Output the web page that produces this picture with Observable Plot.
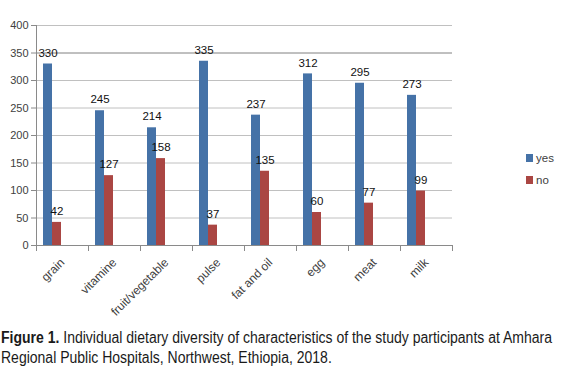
<!DOCTYPE html>
<html><head><meta charset="utf-8">
<script src="https://cdn.jsdelivr.net/npm/d3@7"></script>
<script src="https://cdn.jsdelivr.net/npm/@observablehq/plot@0.6"></script>
<style>
body{margin:0;background:#fff;}
#wrap{position:relative;width:562px;height:375px;overflow:hidden;}
#legend{position:absolute;left:526px;top:147px;font:11.5px "Liberation Sans",Arial,sans-serif;color:#404040;line-height:22px;}
.sw{display:inline-block;width:7px;height:8px;margin-right:3px;}
#caption{position:absolute;left:1px;top:328px;font-family:"Liberation Sans",Arial,sans-serif;font-size:16px;line-height:20px;color:#1a1a1a;white-space:nowrap;}
#caption span{display:inline-block;transform-origin:0 50%;}
</style></head>
<body>
<div id="wrap">
<div id="chart"></div>
<div id="legend"></div>
<div id="caption"><span id="c1"><b>Figure 1.</b> Individual dietary diversity of characteristics of the study participants at Amhara</span><br><span id="c2">Regional Public Hospitals, Northwest, Ethiopia, 2018.</span></div>
</div>
<script>
const categories = ["grain","vitamine","fruit/vegetable","pulse","fat and oil","egg","meat","milk"];
const yesValues = [330,245,214,335,237,312,295,273];
const noValues = [42,127,158,37,135,60,77,99];
const series = ["yes","no"];
const seriesColors = ["#4572A7","#AA4643"];
const yTicks = [0,50,100,150,200,250,300,350,400];

const rows = categories.flatMap((c,i)=>[
  {cat:c, series:"yes", value:yesValues[i]},
  {cat:c, series:"no", value:noValues[i]}
]);

const chart = Plot.plot({
  width:562, height:320,
  marginLeft:34, marginRight:56, marginTop:25, marginBottom:75,
  style:{fontFamily:"'Liberation Sans', Arial, sans-serif", fontSize:"11px", color:"#404040", background:"#fff"},
  fx:{domain:[...categories, ""], paddingInner:0, paddingOuter:0, label:null, axis:null},
  x:{domain:series, paddingInner:0, paddingOuter:1.74, align:0.2, axis:null},
  y:{domain:[0,400], label:null, axis:null},
  color:{domain:series, range:seriesColors},
  marks:[
    Plot.ruleY(yTicks.filter(d=>d!==0 && d!==350), {stroke:"#c0c0c0"}),
    Plot.ruleY([350], {stroke:"#808080"}),
    Plot.barY(rows, {fx:"cat", x:"series", y:"value", fill:"series"}),
    Plot.text(rows, {fx:"cat", x:"series", y:"value", text:"value", dy:-11, fill:"#111", fontSize:11.5}),
    Plot.ruleY([0], {stroke:"#8a8a8a"}),
    Plot.frame({anchor:"left", stroke:"#8a8a8a", insetTop:220, insetBottom:-5}),
    Plot.frame({anchor:"right", stroke:"#8a8a8a", insetTop:220, insetBottom:-5}),
    Plot.frame({anchor:"left", stroke:"#8a8a8a", facet:"super"}),
    Plot.axisY({ticks:yTicks, tickSize:5, tickPadding:3, anchor:"left", stroke:"#8a8a8a", fill:"#404040", label:null}),
    Plot.axisFx({anchor:"bottom", tickRotate:-45, tickSize:0, tickPadding:15, fill:"#404040", fontSize:12, label:null})
  ]
});
document.getElementById("chart").appendChild(chart);

const legend = document.getElementById("legend");
series.forEach((s,i)=>{
  const d = document.createElement("div");
  d.innerHTML = `<span class="sw" style="background:${seriesColors[i]}"></span>${s}`;
  legend.appendChild(d);
});

// condense caption to the reference's narrow typeface width
const c1 = document.getElementById("c1"), c2 = document.getElementById("c2");
const k = 551 / c1.getBoundingClientRect().width;
c1.style.transform = `scaleX(${k})`;
c2.style.transform = `scaleX(${k})`;
</script>
</body></html>
